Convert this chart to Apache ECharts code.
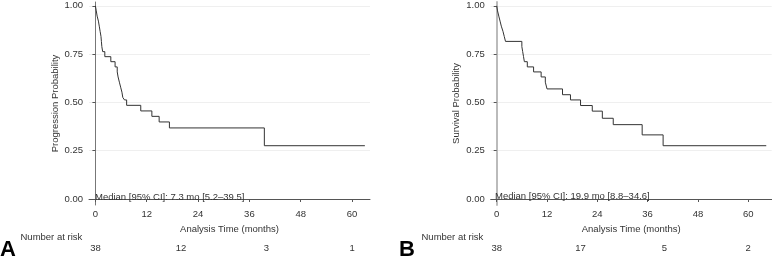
<!DOCTYPE html>
<html>
<head>
<meta charset="UTF-8">
<title>Kaplan-Meier</title>
<style>
body { margin: 0; padding: 0; background: #fff; }
#main { width: 772px; height: 262px; }
</style>
</head>
<body>
<div id="main"></div>
<script src="https://cdn.jsdelivr.net/npm/echarts@6/dist/echarts.min.js"></script>
<script>
// panel A - progression
var timesA = [0, 0.2, 0.4, 0.7, 0.9, 1.1, 1.3, 1.4, 1.5, 1.7, 2.2, 3.6, 4.6, 5.1, 5.3, 5.6, 5.9, 6.2, 6.4, 6.8, 7.3, 10.6, 13.2, 14.9, 17.3, 39.5, 63];
var survA  = [1, 0.974, 0.947, 0.921, 0.895, 0.868, 0.842, 0.816, 0.789, 0.763, 0.737, 0.711, 0.684, 0.658, 0.632, 0.605, 0.579, 0.553, 0.526, 0.513, 0.485, 0.456, 0.428, 0.399, 0.368, 0.276, 0.276];
// panel B - survival
var timesB = [0, 0.2, 0.5, 0.8, 1.1, 1.5, 1.8, 2.1, 6.0, 6.2, 6.4, 6.6, 7.3, 8.8, 10.6, 11.6, 12.0, 15.7, 17.6, 20.0, 22.8, 25.2, 27.8, 34.7, 39.7, 64.3];
var survB  = [1, 0.974, 0.947, 0.921, 0.895, 0.868, 0.842, 0.816, 0.789, 0.763, 0.737, 0.711, 0.684, 0.658, 0.632, 0.605, 0.570, 0.540, 0.513, 0.484, 0.455, 0.418, 0.385, 0.332, 0.276, 0.276];

var xTicks = [0, 12, 24, 36, 48, 60];
var yTicks = [0, 0.25, 0.5, 0.75, 1];
var riskTimes = [0, 20, 40, 60];
var riskA = [38, 12, 3, 1];
var riskB = [38, 17, 5, 2];

var font = 'Liberation Sans, Arial, sans-serif';
var txt = '#333';

function zip(t, s) {
	var out = [];
	for (var i = 0; i < t.length; i++) out.push([t[i], s[i]]);
	return out;
}

function xAxes(gi, min, max, risk, nameGap) {
	return [{
		gridIndex: gi, type: 'value', min: min, max: max,
		name: 'Analysis Time (months)', nameLocation: 'middle', nameGap: nameGap,
		nameTextStyle: { color: txt, fontSize: 9.5, fontFamily: font },
		axisLine: { lineStyle: { color: '#555', width: 1 } },
		axisTick: { customValues: xTicks, length: 3, lineStyle: { color: '#555' } },
		axisLabel: { customValues: xTicks, margin: 4.5, color: txt, fontSize: 9.5, fontFamily: font },
		splitLine: { show: false }
	}, {
		gridIndex: gi, type: 'value', min: min, max: max, position: 'bottom', offset: 34,
		axisLine: { show: false },
		axisTick: { show: false },
		axisLabel: {
			customValues: riskTimes, margin: 4, color: txt, fontSize: 9.5, fontFamily: font,
			formatter: function (v) { return risk[riskTimes.indexOf(v)]; }
		},
		splitLine: { show: false }
	}];
}

function yAxis(gi, name, lineColor, lineWidth) {
	return {
		gridIndex: gi, type: 'value', min: -0.031, max: 1.02,
		name: name, nameLocation: 'middle', nameGap: 29,
		nameTextStyle: { color: txt, fontSize: 9.5, fontFamily: font },
		axisLine: { show: true, lineStyle: { color: lineColor, width: lineWidth } },
		axisTick: { show: true, customValues: yTicks, length: 3, lineStyle: { color: '#555' } },
		axisLabel: {
			customValues: yTicks, margin: 6, color: txt, fontSize: 9.5, fontFamily: font,
			formatter: function (v) { return v.toFixed(2); }
		},
		splitLine: { show: true, lineStyle: { color: '#efefef', width: 1 } }
	};
}

var label = function (text, left, top, extra) {
	var s = { color: txt, fontSize: 9.5, fontFamily: font, fontWeight: 'normal' };
	for (var k in extra) s[k] = extra[k];
	return { text: text, left: left, top: top, padding: 0, textStyle: s };
};

var chart = echarts.init(document.getElementById('main'), null, { renderer: 'canvas' });
var option = {
	animation: false,
	title: [
		label('Median [95% CI]: 7.3 mo [5.2\u201339.5]', 95, 192),
		label('Median [95% CI]: 19.9 mo [8.8\u201334.6]', 495, 191.5),
		label('Number at risk', 20.5, 232),
		label('Number at risk', 421.5, 232),
		label('A', 0, 239, { fontSize: 22, fontWeight: 'bold', color: '#000' }),
		label('B', 399, 239, { fontSize: 22, fontWeight: 'bold', color: '#000' })
	],
	grid: [
		{ left: 89, right: 402, top: 2, bottom: 57 },
		{ left: 490.7, right: 0.3, top: 2, bottom: 57 }
	],
	xAxis: xAxes(0, -1.5, 64.2, riskA, 19).concat(xAxes(1, -1.43, 65.6, riskB, 14.5)),
	yAxis: [
		yAxis(0, 'Progression Probability', '#777', 1),
		yAxis(1, 'Survival Probability', '#bbb', 2)
	],
	series: [{
		type: 'line', xAxisIndex: 0, yAxisIndex: 0, step: 'end', symbol: 'none',
		lineStyle: { color: '#333', width: 1 },
		data: zip(timesA, survA)
	}, {
		type: 'line', xAxisIndex: 2, yAxisIndex: 1, step: 'end', symbol: 'none',
		lineStyle: { color: '#333', width: 1 },
		data: zip(timesB, survB)
	}]
};
chart.setOption(option);
</script>
</body>
</html>
